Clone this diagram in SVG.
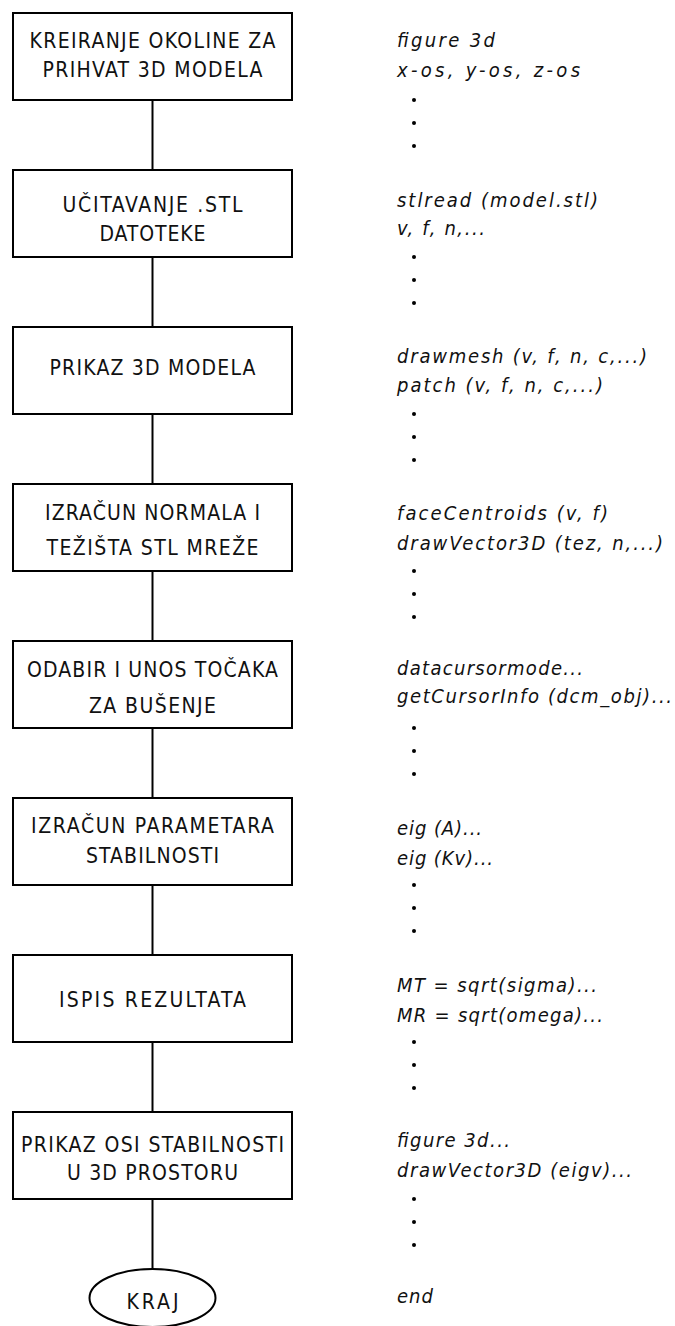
<svg xmlns="http://www.w3.org/2000/svg" width="675" height="1326" viewBox="0 0 675 1326">
<style>
.box{fill:#fff;stroke:#000;stroke-width:2}
.conn line{stroke:#000;stroke-width:2}
.lt{font-family:"DejaVu Sans Condensed","DejaVu Sans","Liberation Sans",sans-serif;font-stretch:condensed;font-size:21px;fill:#111;text-anchor:middle}
.rt{font-family:"DejaVu Sans Condensed","DejaVu Sans","Liberation Sans",sans-serif;font-stretch:condensed;font-style:italic;font-size:20px;fill:#111}
.dot{fill:#000}
</style>
<rect width="675" height="1326" fill="#fff"/>
<g id="connectors" class="conn">
<line x1="152.5" y1="100" x2="152.5" y2="170"/>
<line x1="152.5" y1="257" x2="152.5" y2="327"/>
<line x1="152.5" y1="414" x2="152.5" y2="484"/>
<line x1="152.5" y1="571" x2="152.5" y2="641"/>
<line x1="152.5" y1="728" x2="152.5" y2="798"/>
<line x1="152.5" y1="885" x2="152.5" y2="955"/>
<line x1="152.5" y1="1042" x2="152.5" y2="1112"/>
<line x1="152.5" y1="1199" x2="152.5" y2="1269"/>
</g>
<g id="n1">
<rect class="box" x="13" y="13" width="279" height="87"/>
<text class="lt" x="152.5" y="48" textLength="246" lengthAdjust="spacing">KREIRANJE OKOLINE ZA</text>
<text class="lt" x="152.5" y="77" textLength="220" lengthAdjust="spacing">PRIHVAT 3D MODELA</text>
</g>
<g id="n2">
<rect class="box" x="13" y="170" width="279" height="87"/>
<text class="lt" x="152.5" y="212" textLength="180" lengthAdjust="spacing">UČITAVANJE .STL</text>
<text class="lt" x="152.5" y="241" textLength="106" lengthAdjust="spacing">DATOTEKE</text>
</g>
<g id="n3">
<rect class="box" x="13" y="327" width="279" height="87"/>
<text class="lt" x="152.5" y="375" textLength="206" lengthAdjust="spacing">PRIKAZ 3D MODELA</text>
</g>
<g id="n4">
<rect class="box" x="13" y="484" width="279" height="87"/>
<text class="lt" x="152.5" y="520" textLength="215" lengthAdjust="spacing">IZRAČUN NORMALA I</text>
<text class="lt" x="152.5" y="555" textLength="212" lengthAdjust="spacing">TEŽIŠTA STL MREŽE</text>
</g>
<g id="n5">
<rect class="box" x="13" y="641" width="279" height="87"/>
<text class="lt" x="152.5" y="677" textLength="251" lengthAdjust="spacing">ODABIR I UNOS TOČAKA</text>
<text class="lt" x="152.5" y="713" textLength="127" lengthAdjust="spacing">ZA BUŠENJE</text>
</g>
<g id="n6">
<rect class="box" x="13" y="798" width="279" height="87"/>
<text class="lt" x="152.5" y="833" textLength="243" lengthAdjust="spacing">IZRAČUN PARAMETARA</text>
<text class="lt" x="152.5" y="863" textLength="133" lengthAdjust="spacing">STABILNOSTI</text>
</g>
<g id="n7">
<rect class="box" x="13" y="955" width="279" height="87"/>
<text class="lt" x="152.5" y="1007" textLength="187" lengthAdjust="spacing">ISPIS REZULTATA</text>
</g>
<g id="n8">
<rect class="box" x="13" y="1112" width="279" height="87"/>
<text class="lt" x="152.5" y="1152" textLength="263" lengthAdjust="spacing">PRIKAZ OSI STABILNOSTI</text>
<text class="lt" x="152.5" y="1180" textLength="171" lengthAdjust="spacing">U 3D PROSTORU</text>
</g>
<g id="n9">
<ellipse class="box" cx="152.5" cy="1298" rx="63" ry="29"/>
<text class="lt" x="152.5" y="1309" textLength="52" lengthAdjust="spacing">KRAJ</text>
</g>
<g id="code">
<text class="rt" x="397" y="47" textLength="98" lengthAdjust="spacing">figure 3d</text>
<text class="rt" x="397" y="77" textLength="183" lengthAdjust="spacing">x-os, y-os, z-os</text>
<text class="rt" x="397" y="207" textLength="201" lengthAdjust="spacing">stlread (model.stl)</text>
<text class="rt" x="397" y="235" textLength="88" lengthAdjust="spacing">v, f, n,...</text>
<text class="rt" x="397" y="363" textLength="250" lengthAdjust="spacing">drawmesh (v, f, n, c,...)</text>
<text class="rt" x="397" y="392" textLength="206" lengthAdjust="spacing">patch (v, f, n, c,...)</text>
<text class="rt" x="397" y="520" textLength="211" lengthAdjust="spacing">faceCentroids (v, f)</text>
<text class="rt" x="397" y="550" textLength="266" lengthAdjust="spacing">drawVector3D (tez, n,...)</text>
<text class="rt" x="397" y="675" textLength="186" lengthAdjust="spacing">datacursormode...</text>
<text class="rt" x="397" y="703" textLength="275" lengthAdjust="spacing">getCursorInfo (dcm_obj)...</text>
<text class="rt" x="397" y="835" textLength="85" lengthAdjust="spacing">eig (A)...</text>
<text class="rt" x="397" y="865" textLength="96" lengthAdjust="spacing">eig (Kv)...</text>
<text class="rt" x="397" y="992" textLength="200" lengthAdjust="spacing">MT = sqrt(sigma)...</text>
<text class="rt" x="397" y="1022" textLength="206" lengthAdjust="spacing">MR = sqrt(omega)...</text>
<text class="rt" x="397" y="1147" textLength="113" lengthAdjust="spacing">figure 3d...</text>
<text class="rt" x="397" y="1177" textLength="235" lengthAdjust="spacing">drawVector3D (eigv)...</text>
<text class="rt" x="397" y="1303" textLength="36" lengthAdjust="spacing">end</text>
</g>
<g id="dots" class="dot">
<circle cx="414" cy="100" r="2"/><circle cx="414" cy="123" r="2"/><circle cx="414" cy="146" r="2"/>
<circle cx="414" cy="257" r="2"/><circle cx="414" cy="280" r="2"/><circle cx="414" cy="303" r="2"/>
<circle cx="414" cy="414" r="2"/><circle cx="414" cy="437" r="2"/><circle cx="414" cy="460" r="2"/>
<circle cx="414" cy="571" r="2"/><circle cx="414" cy="594" r="2"/><circle cx="414" cy="617" r="2"/>
<circle cx="414" cy="728" r="2"/><circle cx="414" cy="751" r="2"/><circle cx="414" cy="774" r="2"/>
<circle cx="414" cy="885" r="2"/><circle cx="414" cy="908" r="2"/><circle cx="414" cy="931" r="2"/>
<circle cx="414" cy="1042" r="2"/><circle cx="414" cy="1065" r="2"/><circle cx="414" cy="1088" r="2"/>
<circle cx="414" cy="1199" r="2"/><circle cx="414" cy="1222" r="2"/><circle cx="414" cy="1245" r="2"/>
</g>
</svg>
